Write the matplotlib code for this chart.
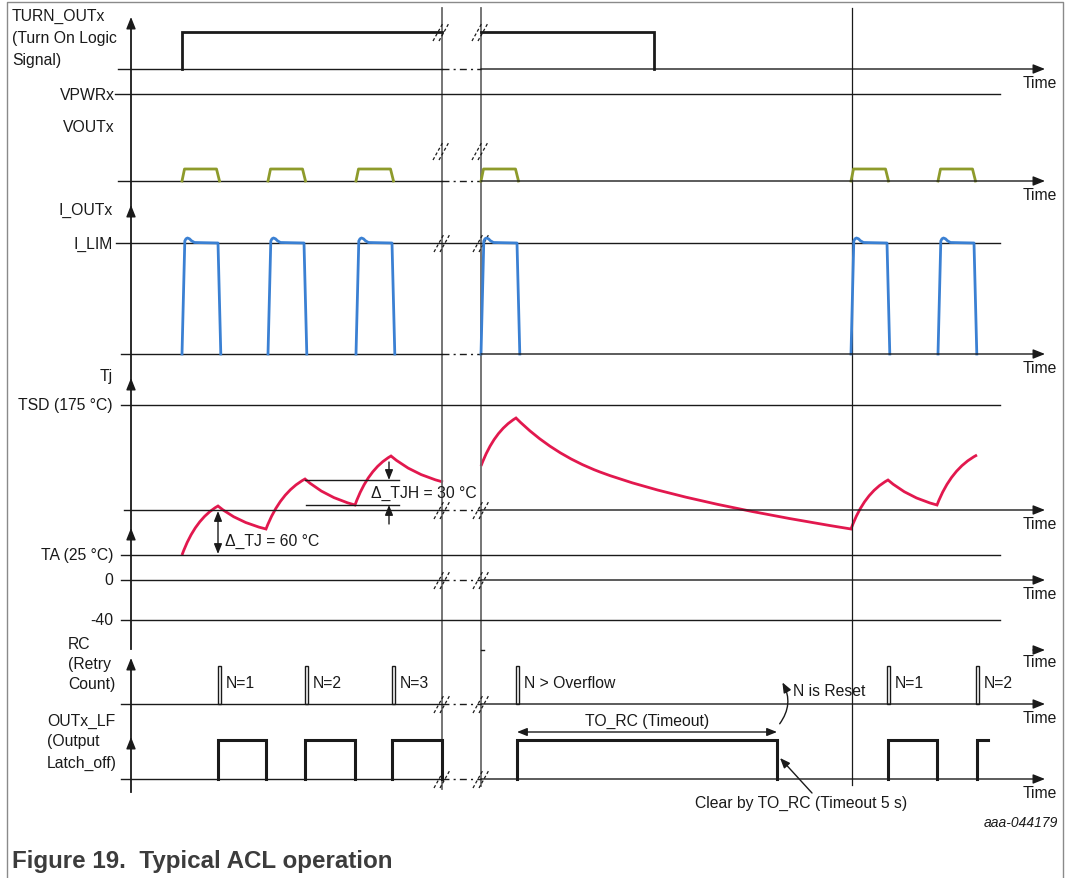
import matplotlib
matplotlib.use("Agg")
import matplotlib.pyplot as plt
from matplotlib.path import Path
from matplotlib.patches import PathPatch, FancyArrowPatch, Rectangle

plt.rcParams['font.family'] = ['Liberation Sans', 'DejaVu Sans']

# ---------------- data (time in diagram units, temperatures in °C) ----------------
on_starts = [182, 268, 356, 481, 851, 938]          # output-on (retry) windows
turn_on_edges = [182, 654]                            # TURN_OUTx rise / fall
break_t = [442, 481]                                  # broken time axis
reset_t = 852                                         # N reset instant

rc_t = [218, 305, 392, 516, 887, 976]
rc_labels = ["N=1", "N=2", "N=3", "N > Overflow", "N=1", "N=2"]
lf_rise = [218, 305, 392, 517, 888, 977]
lf_fall = [266, 355, 442, 777, 937, None]
lf_open_end = 988

# junction temperature trace (knots + bezier control points), °C
tj_a_t = [182, 218, 266, 305, 355, 391, 443]
tj_a_c = [25, 74, 51, 101, 75, 124, 98]
tj_a_ctrl_t = [195, 237, 280, 325, 368, 412]
tj_a_ctrl_c = [61, 58, 87.5, 83, 111, 106]
tj_b_t = [481, 516, 600, 851, 888, 937, 977]
tj_b_c = [114, 162, 108, 51, 100, 75, 125]
tj_b_ctrl_t = [494, 552, 677, 864, 908, 951]
tj_b_ctrl_c = [149, 126, 79, 87, 82.5, 111.5]

tj_levels = {"TSD (175 °C)": 175, "TA (25 °C)": 25, "0": 0, "-40": -40}
tj_axis_c = 70
dtj_c = (70, 25)
dtjh_c = (100, 75)

# ---------------- layout / style ----------------
W, H = 1069, 879
TURN_BASE, TURN_HIGH = 70, 33
VPWR_Y = 95
VOUT_BASE, VOUT_HIGH = 182, 170
I_BASE, I_LIM_Y = 355, 244
TJ0_Y = 581
RC_BASE, RC_HIGH = 705, 667
LF_BASE, LF_HIGH = 780, 741
AX_X = 131
X_END = 1045
REF_END = 1000
INK = '#1a1a1a'
GREEN = '#8E9B2B'
BLUE = '#3A80D3'
RED = '#E2184E'
FS = 11.3


def tjy(c):
    return TJ0_Y - c


fig = plt.figure(figsize=(W / 100, H / 100), dpi=100)
ax = fig.add_axes([0, 0, 1, 1])
ax.set_xlim(0, W)
ax.set_ylim(H, 0)
ax.axis('off')

# border
ax.plot([7, 7, 1063, 1063], [H + 5, 3, 3, H + 5], color='#8a8a8a', lw=1.0)

ARW = dict(arrowstyle='-|>,head_length=0.55,head_width=0.22', lw=1.0, color=INK,
           mutation_scale=13, shrinkA=0, shrinkB=0)


def arrow_line(x0, y, x1=X_END):
    ax.annotate('', xy=(x1, y), xytext=(x0, y), arrowprops=ARW)


def slashes(x, y):
    for off in (-3, 3):
        ax.plot([x + off - 5, x + off + 5], [y + 9, y - 9], color=INK, lw=0.9,
                ls=(0, (2.5, 1.8)))


def broken_baseline(x0, y, arrow=True, marks=False):
    ax.plot([x0, break_t[0]], [y, y], color=INK, lw=1.0)
    ax.plot([break_t[0], break_t[1]], [y, y], color=INK, lw=1.0, ls=(0, (5, 3, 1.5, 3)))
    if arrow:
        arrow_line(break_t[1], y)
        ax.text(1023, y + 14, 'Time', fontsize=FS, va='center', ha='left', color=INK)
    if marks:
        for bx in break_t:
            slashes(bx, y)


# break lines and reset line
for bx, yb in zip(break_t, (790, 787)):
    ax.plot([bx, bx], [9, yb], color='#6a6a6a', lw=1.3)
ax.plot([break_t[1], break_t[1] + 3], [651, 651], color=INK, lw=1.0)
ax.plot([reset_t, reset_t], [9, 786], color=INK, lw=0.9)

# left vertical axis
ax.plot([AX_X, AX_X], [650, 22], color=INK, lw=1.3)
ax.plot([AX_X, AX_X], [793, 662], color=INK, lw=1.3)
for ya in (18, 206, 379, 529, 659, 738):
    ax.annotate('', xy=(AX_X, ya), xytext=(AX_X, ya + 12), arrowprops=ARW)

# ---- TURN_OUTx ----
for i, s in enumerate(["TURN_OUTx", "(Turn On Logic", "Signal)"]):
    ax.text(12, 16 + 22 * i, s, fontsize=FS, va='center', ha='left', color=INK)
broken_baseline(118, TURN_BASE)
ax.plot([turn_on_edges[0], turn_on_edges[0], break_t[0]], [TURN_BASE, TURN_HIGH, TURN_HIGH],
        color=INK, lw=2.0, solid_joinstyle='miter')
ax.plot([break_t[1], turn_on_edges[1], turn_on_edges[1]], [TURN_HIGH, TURN_HIGH, TURN_BASE],
        color=INK, lw=2.0, solid_joinstyle='miter')
for bx in break_t:
    slashes(bx - 1, TURN_HIGH)

# ---- VPWRx ----
ax.text(115, VPWR_Y, 'VPWRx', fontsize=FS, va='center', ha='right', color=INK)
ax.plot([115, REF_END], [VPWR_Y, VPWR_Y], color=INK, lw=1.0)

# ---- VOUTx ----
ax.text(115, 127, 'VOUTx', fontsize=FS, va='center', ha='right', color=INK)
broken_baseline(118, VOUT_BASE)
for bx in break_t:
    slashes(bx - 1, 152)
for s in on_starts:
    ax.plot([s, s + 2.5, s + 34.5, s + 37.5], [VOUT_BASE, VOUT_HIGH, VOUT_HIGH, VOUT_BASE],
            color=GREEN, lw=2.0)

# ---- I_OUTx ----
ax.text(113, 210, 'I_OUTx', fontsize=FS, va='center', ha='right', color=INK)
ax.text(113, I_LIM_Y, 'I_LIM', fontsize=FS, va='center', ha='right', color=INK)
ax.plot([116, REF_END], [I_LIM_Y, I_LIM_Y], color=INK, lw=1.0)
for bx in break_t:
    slashes(bx, I_LIM_Y)
broken_baseline(121, I_BASE)
for s in on_starts:
    xs = [s, s + 2.8, s + 4, s + 5.5, s + 7.5, s + 9.5, s + 12.5, s + 36, s + 38.8]
    ys = [I_BASE, 242, 239.8, 239, 239.8, 241.8, 243.5, 244, I_BASE]
    ax.plot(xs, ys, color=BLUE, lw=2.0)

# ---- Tj ----
ax.text(113, 377, 'Tj', fontsize=FS, va='center', ha='right', color=INK)
for lab, c in tj_levels.items():
    ax.text(113, tjy(c), lab, fontsize=FS, va='center', ha='right', color=INK)
    if c == 0:
        broken_baseline(121, tjy(c), marks=True)
    else:
        ax.plot([121, REF_END], [tjy(c), tjy(c)], color=INK, lw=1.0)
broken_baseline(124, tjy(tj_axis_c), marks=True)


def tj_path(ts, cs, ct, cc):
    verts = [(ts[0], tjy(cs[0]))]
    codes = [Path.MOVETO]
    for i in range(1, len(ts)):
        verts += [(ct[i - 1], tjy(cc[i - 1])), (ts[i], tjy(cs[i]))]
        codes += [Path.CURVE3, Path.CURVE3]
    ax.add_patch(PathPatch(Path(verts, codes), fill=False, edgecolor=RED, lw=2.0,
                           joinstyle='miter'))


tj_path(tj_a_t, tj_a_c, tj_a_ctrl_t, tj_a_ctrl_c)
tj_path(tj_b_t, tj_b_c, tj_b_ctrl_t, tj_b_ctrl_c)

DARW = dict(arrowstyle='<|-|>,head_length=0.5,head_width=0.2', lw=1.0, color=INK,
            mutation_scale=12, shrinkA=0, shrinkB=0)
SARW = dict(arrowstyle='-|>,head_length=0.5,head_width=0.2', lw=1.0, color=INK,
            mutation_scale=12, shrinkA=0, shrinkB=0)
# delta TJ
ax.annotate('', xy=(218, tjy(dtj_c[0]) + 1), xytext=(218, tjy(dtj_c[1]) - 1), arrowprops=DARW)
ax.text(225, 541, 'Δ_TJ = 60 °C', fontsize=FS, va='center', ha='left', color=INK)
# delta TJH
ax.plot([305, 399], [tjy(dtjh_c[0]), tjy(dtjh_c[0])], color=INK, lw=1.0)
ax.plot([306, 399], [tjy(dtjh_c[1]), tjy(dtjh_c[1])], color=INK, lw=1.0)
ax.annotate('', xy=(389, tjy(dtjh_c[0])), xytext=(389, tjy(dtjh_c[0]) - 18), arrowprops=SARW)
ax.annotate('', xy=(389, tjy(dtjh_c[1])), xytext=(389, tjy(dtjh_c[1]) + 19), arrowprops=SARW)
ax.text(371, 493, 'Δ_TJH = 30 °C', fontsize=FS, va='center', ha='left', color=INK)

# ---- RC ----
for i, s in enumerate(["RC", "(Retry", "Count)"]):
    ax.text(68, 645 + 20 * i, s, fontsize=FS, va='center', ha='left', color=INK)
broken_baseline(121, RC_BASE, marks=True)
ax.annotate('', xy=(X_END, 651), xytext=(X_END - 12, 651), arrowprops=ARW)
ax.text(1023, 663, 'Time', fontsize=FS, va='center', ha='left', color=INK)
for t, lab in zip(rc_t, rc_labels):
    ax.add_patch(Rectangle((t, RC_HIGH), 3, RC_BASE - RC_HIGH, facecolor='white',
                           edgecolor=INK, lw=1.0))
    ax.text(t + 8, 684, lab, fontsize=FS, va='center', ha='left', color=INK)

# ---- OUTx_LF ----
for i, s in enumerate(["OUTx_LF", "(Output", "Latch_off)"]):
    ax.text(47, 721 + 21 * i, s, fontsize=FS, va='center', ha='left', color=INK)
broken_baseline(121, LF_BASE, marks=True)
for r, f in zip(lf_rise, lf_fall):
    if f is None:
        ax.plot([r, r, lf_open_end], [LF_BASE, LF_HIGH, LF_HIGH], color=INK, lw=2.2,
                solid_joinstyle='miter')
    else:
        ax.plot([r, r, f, f], [LF_BASE, LF_HIGH, LF_HIGH, LF_BASE], color=INK, lw=2.2,
                solid_joinstyle='miter')

# TO_RC annotation
ax.annotate('', xy=(lf_fall[3], 733), xytext=(lf_rise[3], 733), arrowprops=DARW)
ax.text((lf_rise[3] + lf_fall[3]) / 2, 721, 'TO_RC (Timeout)', fontsize=FS, va='center',
        ha='center', color=INK)
ax.add_patch(FancyArrowPatch((778, 727), (781, 681), connectionstyle='arc3,rad=0.35',
                             arrowstyle='-|>,head_length=0.5,head_width=0.2',
                             mutation_scale=12, lw=1.0, color=INK))
ax.text(793, 692, 'N is Reset', fontsize=FS, va='center', ha='left', color=INK)
ax.annotate('', xy=(780, 759), xytext=(812, 794), arrowprops=SARW)
ax.text(695, 803, 'Clear by TO_RC (Timeout 5 s)', fontsize=FS, va='center', ha='left',
        color=INK)

# figure id and caption
ax.text(1058, 823, 'aaa-044179', fontsize=10, style='italic', va='center', ha='right',
        color=INK)
ax.text(12, 862, 'Figure 19.  Typical ACL operation', fontsize=17.4, fontweight='bold',
        va='center', ha='left', color='#3c3c3c')

fig.savefig('out.png', dpi=100)
